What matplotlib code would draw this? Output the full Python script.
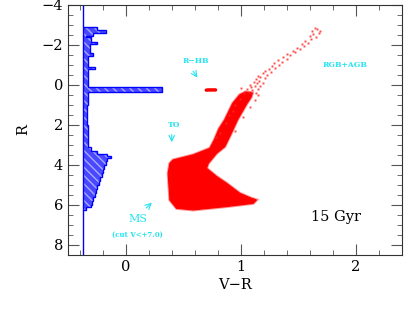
import numpy as np
import matplotlib
matplotlib.use('Agg')
import matplotlib.pyplot as plt

# histogram of R (horizontal steps, right end of each bar in V-R units)
hist_base = -0.368
hist_edges = [-2.90, -2.75, -2.60, -2.45, -2.40, -2.15, -2.05, -1.60, -1.45, -0.90,
              -0.80, 0.10, 0.35, 1.00, 2.00, 3.10, 3.30, 3.45, 3.55, 3.65, 3.80,
              4.00, 4.20, 4.40, 4.60, 4.80, 5.00, 5.20, 5.40, 5.60, 5.80, 6.00,
              6.10, 6.25]
hist_vals = [-0.25, -0.17, -0.28, -0.34, -0.30, -0.25, -0.31, -0.28, -0.33, -0.265,
             -0.33, 0.317, -0.33, -0.335, -0.33, -0.30, -0.25, -0.165, -0.13, -0.165,
             -0.172, -0.184, -0.196, -0.208, -0.22, -0.232, -0.245, -0.257, -0.27,
             -0.282, -0.294, -0.305, -0.34]

# outline of the dense part of the CMD (MS + SGB + lower RGB)
cmd_vr = [0.384, 0.413, 0.586, 0.731, 0.77, 0.81, 0.86, 0.93, 0.99, 1.04, 1.10,
          1.09, 1.05, 0.97, 0.91, 0.876, 0.861, 0.789, 0.717, 0.702, 0.789, 0.876,
          0.991, 1.093, 1.136, 1.107, 0.876, 0.586, 0.442, 0.384, 0.369]
cmd_r = [3.92, 3.75, 3.50, 3.17, 2.75, 2.20, 1.75, 0.92, 0.50, 0.35, 0.40,
         0.60, 0.95, 1.75, 2.50, 2.90, 3.08, 3.42, 3.92, 4.17, 4.58, 4.92,
         5.42, 5.67, 5.75, 5.92, 6.08, 6.25, 6.17, 5.75, 4.42]

# scattered stars on the RGB / AGB
rgb_vr = [1.03, 1.13, 1.07, 1.10, 1.05, 1.15, 1.09, 1.12, 1.17, 1.08, 1.14, 1.19,
          1.11, 1.16, 1.13, 1.21, 1.17, 1.15, 1.23, 1.19, 1.26, 1.21, 1.24, 1.30,
          1.27, 1.33, 1.29, 1.36, 1.32, 1.40, 1.37, 1.43, 1.40, 1.47, 1.45, 1.51,
          1.49, 1.55, 1.53, 1.58, 1.56, 1.61, 1.65, 1.60, 1.63, 1.68, 1.62, 1.66,
          1.64, 1.69, 0.82, 0.87, 0.90, 0.95, 0.99, 0.95, 1.02, 1.08, 1.12, 1.15,
          0.78, 0.93, 1.00]
rgb_r = [0.42, 0.38, 0.33, 0.27, 0.22, 0.18, 0.12, 0.07, 0.03, -0.02, -0.08, -0.12,
         -0.17, -0.22, -0.30, -0.33, -0.41, -0.47, -0.52, -0.60, -0.66, -0.72, -0.80, -0.86,
         -0.93, -1.02, -1.08, -1.17, -1.26, -1.31, -1.40, -1.48, -1.55, -1.63, -1.72, -1.78,
         -1.86, -1.93, -2.03, -2.12, -2.22, -2.30, -2.38, -2.47, -2.56, -2.62, -2.70, -2.78,
         -2.86, -2.72, 2.40, 1.90, 1.50, 1.00, 0.70, 2.30, 1.60, 1.10, 0.75, 0.50,
         2.60, 1.30, 0.15]

# red horizontal branch clump
hb_vr = [0.70, 0.72, 0.75, 0.78]
hb_r = [0.26, 0.25, 0.25, 0.25]

cyan = '#22e4f0'

fig = plt.figure(figsize=(4.15, 3.09), dpi=100)
ax = fig.add_axes([0.164, 0.175, 0.805, 0.809])

ax.axvline(hist_base, color='blue', lw=1)
ax.stairs(hist_vals, hist_edges, baseline=hist_base, orientation='horizontal',
          fill=True, facecolor='#4848ff', edgecolor='none', lw=0)
ax.stairs(hist_vals, hist_edges, baseline=hist_base, orientation='horizontal',
          fill=True, facecolor='none', edgecolor='#a8a8ff', hatch='\\\\\\\\', lw=0)
ax.stairs(hist_vals, hist_edges, baseline=hist_base, orientation='horizontal',
          color='blue', lw=1)

# soft fringe under the dense region, then the solid fill
ax.fill(cmd_vr, cmd_r, fc='none', ec='#ff6a6a', lw=2.2, alpha=0.7)
ax.fill(cmd_vr, cmd_r, color='red', lw=0.8, ec='red')
ax.plot(rgb_vr, rgb_r, 's', ms=1.4, color='#ff2a2a', mew=0, alpha=0.85)
ax.plot(hb_vr, hb_r, '-', color='red', lw=2.5, solid_capstyle='round')

tf = dict(family='DejaVu Serif', color=cyan, weight='bold')
ax.text(0.61, -1.2, 'R\u2212HB', fontsize=5.5, ha='center', va='center', **tf)
ax.annotate('', xy=(0.636, -0.25), xytext=(0.572, -0.8),
            arrowprops=dict(arrowstyle='->', color=cyan, lw=0.8))
ax.text(0.42, 2.0, 'TO', fontsize=5.5, ha='center', va='center', **tf)
ax.annotate('', xy=(0.40, 3.0), xytext=(0.40, 2.35),
            arrowprops=dict(arrowstyle='->', color=cyan, lw=0.8))
ax.text(1.90, -1.0, 'RGB+AGB', fontsize=5.5, ha='center', va='center', **tf)
ax.text(0.107, 6.7, 'MS', fontsize=8, ha='center', va='center',
        family='DejaVu Serif', color=cyan)
ax.text(0.10, 7.5, '(cut V<+7.0)', fontsize=5, ha='center', va='center', **tf)
ax.annotate('', xy=(0.245, 5.79), xytext=(0.161, 6.25),
            arrowprops=dict(arrowstyle='->', color=cyan, lw=0.8))
ax.text(1.83, 6.58, '15 Gyr', fontsize=10.5, ha='center', va='center',
        family='DejaVu Serif', color='black')

ax.set_xlim(-0.5, 2.4)
ax.set_ylim(8.5, -4)
ax.set_xticks([0, 1, 2])
ax.set_yticks([-4, -2, 0, 2, 4, 6, 8])
ax.set_xticks(np.arange(-0.4, 2.41, 0.2), minor=True)
ax.set_yticks(np.arange(-4, 8.51, 0.5), minor=True)
ax.tick_params(which='both', direction='in', top=True, right=True,
               color='#555555', labelsize=10.5)
ax.tick_params(which='major', length=8)
ax.tick_params(which='minor', length=3.5)
for lab in ax.get_xticklabels() + ax.get_yticklabels():
    lab.set_family('DejaVu Serif')
for s in ax.spines.values():
    s.set_color('#333333')

ax.set_xlabel('V\u2212R', family='DejaVu Serif', fontsize=10.5, labelpad=3)
ax.set_ylabel('R', family='DejaVu Serif', fontsize=10.5, labelpad=8)

fig.savefig('out.png', dpi=100)
